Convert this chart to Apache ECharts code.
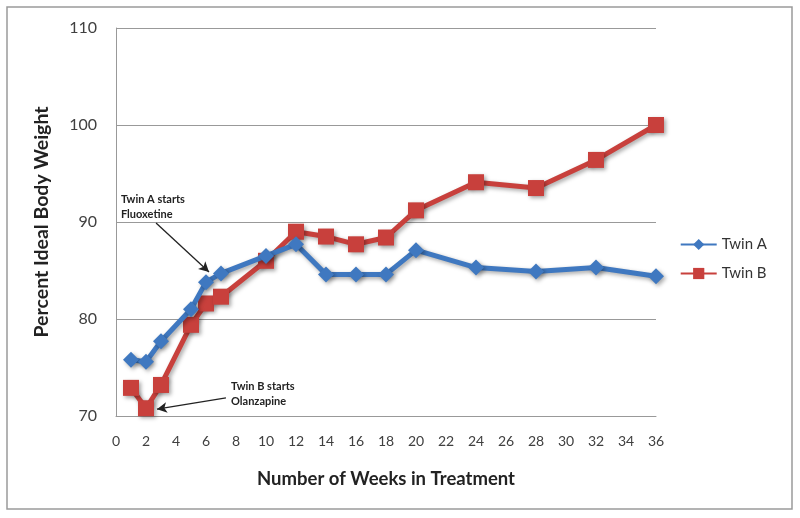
<!DOCTYPE html>
<html><head><meta charset="utf-8">
<script src="https://cdn.jsdelivr.net/npm/echarts@6/dist/echarts.min.js"></script>
<style>html,body{margin:0;padding:0;background:#fff}#c{width:800px;height:518px}</style>
</head><body><div id="c"></div>
<script>
const weeks = [1, 2, 3, 5, 6, 7, 10, 12, 14, 16, 18, 20, 24, 28, 32, 36];
const twinA = [75.8, 75.6, 77.7, 81.0, 83.8, 84.7, 86.5, 87.7, 84.6, 84.6, 84.6, 87.1, 85.3, 84.9, 85.3, 84.4];
const twinB = [72.9, 70.8, 73.2, 79.4, 81.6, 82.3, 86.0, 89.0, 88.5, 87.7, 88.4, 91.2, 94.1, 93.5, 96.4, 100.0];
const seriesNames = ['Twin A', 'Twin B'];
const annoTextA = 'Twin A starts\nFluoxetine';
const annoTextB = 'Twin B starts\nOlanzapine';
const annoPosA = [0.33, 91.6];
const annoPosB = [7.67, 72.3];
const arrowA = [[2.67, 89.9], [6.2, 84.85]];
const arrowB = [[7.33, 71.86], [2.73, 70.7]];

const font = 'Lato, "Open Sans", sans-serif';
const chart = echarts.init(document.getElementById('c'));
const pairs = (ys) => weeks.map((w, i) => [w, ys[i]]);
const shadow = {shadowBlur: 4, shadowOffsetX: 2, shadowOffsetY: 2, shadowColor: 'rgba(0,0,0,0.35)'};
const annoLabel = {show: true, position: 'right', distance: 0, color: '#222', fontFamily: font, fontWeight: 'bold', fontSize: 11, lineHeight: 15, align: 'left'};

chart.setOption({
  animation: false,
  backgroundColor: '#fff',
  graphic: [{type: 'rect', shape: {x: 7, y: 7, width: 785, height: 502}, style: {fill: 'none', stroke: '#9a9a9a', lineWidth: 1.5}, z: -1}],
  grid: {left: 116, right: 144, top: 28, bottom: 102},
  legend: {
    orient: 'vertical', right: 28, top: 232, itemGap: 14, itemWidth: 36, itemHeight: 14,
    textStyle: {color: '#333', fontFamily: font, fontSize: 15},
    data: seriesNames
  },
  xAxis: {
    type: 'value', min: 0, max: 36, interval: 2,
    name: 'Number of Weeks in Treatment', nameLocation: 'middle', nameGap: 54,
    nameTextStyle: {color: '#222', fontFamily: font, fontWeight: 'bold', fontSize: 18.5},
    axisLine: {show: true, lineStyle: {color: '#999', width: 1}},
    axisTick: {show: false},
    axisLabel: {color: '#404040', fontFamily: font, fontSize: 14, margin: 18},
    splitLine: {show: false}
  },
  yAxis: {
    type: 'value', min: 70, max: 110, interval: 10,
    name: 'Percent Ideal Body Weight', nameLocation: 'middle', nameGap: 64,
    nameTextStyle: {color: '#222', fontFamily: font, fontWeight: 'bold', fontSize: 19.5},
    axisLine: {show: true, lineStyle: {color: '#999', width: 1}},
    axisTick: {show: false},
    axisLabel: {color: '#404040', fontFamily: font, fontSize: 16, margin: 19},
    splitLine: {show: true, lineStyle: {color: '#999', width: 1}}
  },
  series: [
    {
      name: seriesNames[0], type: 'line', data: pairs(twinA),
      symbol: 'diamond', symbolSize: 16, color: '#3f78c0',
      lineStyle: Object.assign({width: 5, color: '#3f78c0'}, shadow),
      itemStyle: Object.assign({color: '#3f78c0'}, shadow), z: 3,
      markPoint: {
        symbol: 'circle', symbolSize: 0, silent: true,
        data: [{coord: annoPosA, label: Object.assign({formatter: annoTextA}, annoLabel)}]
      },
      markLine: {
        silent: true, symbol: ['none', 'arrow'], symbolSize: [8, 10],
        lineStyle: {color: '#222', width: 1.3, type: 'solid'}, label: {show: false},
        data: [[{coord: arrowA[0]}, {coord: arrowA[1]}]]
      }
    },
    {
      name: seriesNames[1], type: 'line', data: pairs(twinB),
      symbol: 'rect', symbolSize: 16, color: '#c8403c',
      lineStyle: Object.assign({width: 5, color: '#c8403c'}, shadow),
      itemStyle: Object.assign({color: '#c8403c'}, shadow), z: 2,
      markPoint: {
        symbol: 'circle', symbolSize: 0, silent: true,
        data: [{coord: annoPosB, label: Object.assign({formatter: annoTextB}, annoLabel)}]
      },
      markLine: {
        silent: true, symbol: ['none', 'arrow'], symbolSize: [8, 10],
        lineStyle: {color: '#222', width: 1.3, type: 'solid'}, label: {show: false},
        data: [[{coord: arrowB[0]}, {coord: arrowB[1]}]]
      }
    }
  ]
});
</script></body></html>
